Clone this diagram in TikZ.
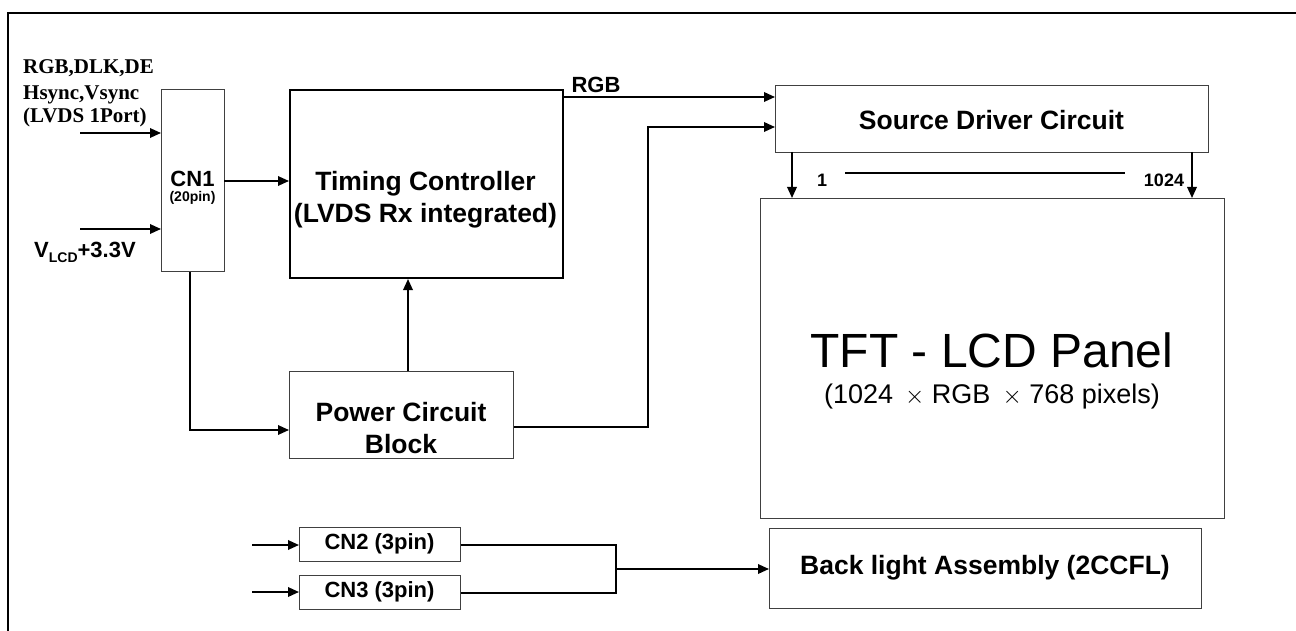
\documentclass[tikz,border=0pt]{standalone}
\usepackage{fontspec}
\setmainfont{Liberation Sans}
\newfontfamily\tnr{Liberation Serif}
\usetikzlibrary{arrows.meta}
\begin{document}
\begin{tikzpicture}[x=1pt,y=-1pt,
  box/.style={draw=black!75, line width=1.3pt, rectangle, inner sep=0pt, anchor=north west},
  thickbox/.style={draw=black, line width=2pt, rectangle, inner sep=0pt, anchor=north west},
  arr/.style={line width=1.8pt, -{Triangle[length=11pt,width=9.5pt]}},
  wire/.style={line width=1.8pt},
  lbl/.style={inner sep=0pt, font=\bfseries\fontsize{26.5}{32}\selectfont, align=center},
  small/.style={inner sep=0pt, font=\bfseries\fontsize{22}{24}\selectfont},
  serifl/.style={inner sep=0pt, anchor=base west, font=\tnr\bfseries\fontsize{21}{24}\selectfont}]
\useasboundingbox (0,0) rectangle (1296,631);
% frame
\draw[line width=2.5pt] (8,631) -- (8,13) -- (1296,13);
% boxes
\node[box, minimum width=63pt, minimum height=182pt] (cn1) at (161,89) {};
\node[thickbox, minimum width=273pt, minimum height=188pt] (tc) at (289,89) {};
\node[box, minimum width=224pt, minimum height=87pt] (pw) at (289,371) {};
\node[box, minimum width=433pt, minimum height=67pt] (sd) at (775,85) {};
\node[box, minimum width=464pt, minimum height=320pt] (tft) at (760,198) {};
\node[box, minimum width=161pt, minimum height=34pt] (cn2) at (299,527) {};
\node[box, minimum width=161pt, minimum height=34pt] (cn3) at (299,575) {};
\node[box, minimum width=432pt, minimum height=80pt] (bl) at (769,528) {};
% texts
\node[serifl] (t1) at (23,74) {RGB,DLK,DE};
\node[serifl] (t2) at (23,100) {Hsync,Vsync};
\node[serifl] (t3) at (23,123) {(LVDS 1Port)};
\node[small, anchor=base west] (vlcd) at (34,258) {V\raisebox{-0.35ex}{\fontsize{14}{14}\selectfont LCD}+3.3V};
\node[small, anchor=base] (cn1t) at (192.5,187) {CN1};
\node[inner sep=0pt, anchor=base, font=\bfseries\fontsize{14}{16}\selectfont] (cn1p) at (192.5,202) {(20pin)};
\node[lbl] (tct) at (425.5,200) {Timing Controller\\(LVDS Rx integrated)};
\node[lbl] (pwt) at (401,428) {Power Circuit\\Block};
\node[lbl] (sdt) at (991.5,120) {Source Driver Circuit};
\node[inner sep=0pt, anchor=base, font=\fontsize{48}{50}\selectfont] (tftt) at (992,367) {TFT - LCD Panel};
\node[inner sep=0pt, anchor=base, font=\fontsize{27}{30}\selectfont] (tfts) at (992,403) {(1024 \,$\times$ RGB \,$\times$ 768 pixels)};
\node[small] (cn2t) at (379.5,544) {CN2 (3pin)};
\node[small] (cn3t) at (379.5,592) {CN3 (3pin)};
\node[lbl] (blt) at (985,568) {Back light Assembly (2CCFL)};
\node[small] (rgbt) at (596,85) {RGB};
\node[inner sep=0pt, font=\bfseries\fontsize{18}{20}\selectfont] (one) at (822,180) {1};
\node[inner sep=0pt, font=\bfseries\fontsize{18}{20}\selectfont] (k1024) at (1164,180) {1024};
% connectors
\coordinate (in1) at (80,133);
\coordinate (in2) at (80,229);
\draw[arr] (in1) -- (cn1.west |- in1);
\draw[arr] (in2) -- (cn1.west |- in2);
\coordinate (c1) at (224,181);
\draw[arr] (c1) -- (tc.west |- c1);
\coordinate (r1) at (562,97);
\draw[arr] (r1) -- (sd.west |- r1);
\coordinate (pj) at (648,427);
\coordinate (pt) at (648,127);
\draw[arr] (pw.east |- pj) -- (pj) -- (pt) -- (sd.west |- pt);
\coordinate (cb) at (190,430);
\draw[arr] (cn1.south -| cb) -- (cb) -- (pw.west |- cb);
\coordinate (pu) at (408,371);
\draw[arr] (pu) -- (tc.south -| pu);
\coordinate (d1) at (792,152);
\coordinate (d2) at (1192,152);
\draw[arr] (d1) -- (tft.north -| d1);
\draw[arr] (d2) -- (tft.north -| d2);
\coordinate (la) at (845,173);
\coordinate (lb) at (1125,173);
\draw[line width=1.5pt] (la) -- (lb);
\coordinate (a2) at (252,545);
\coordinate (a3) at (252,592);
\draw[arr] (a2) -- (cn2.west |- a2);
\draw[arr] (a3) -- (cn3.west |- a3);
\coordinate (jn) at (616,569);
\draw[wire] (cn2.east) -| (jn) |- (cn3.east);
\draw[arr] (jn) -- (bl.west |- jn);
\end{tikzpicture}
\end{document}
